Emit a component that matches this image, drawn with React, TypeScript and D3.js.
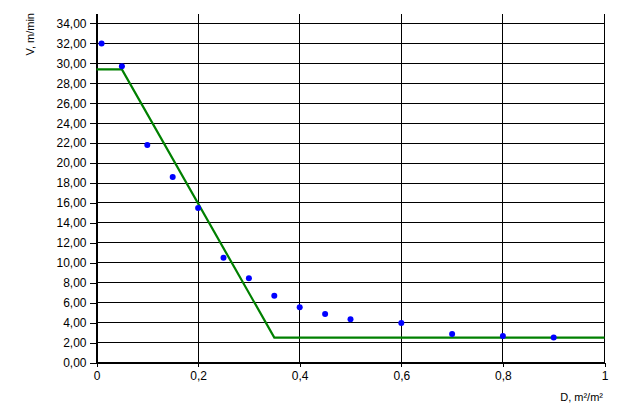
import * as d3 from "d3";
import { useEffect, useRef } from "react";

// measured points
const pointsD: number[] = [0.01, 0.05, 0.1, 0.15, 0.2, 0.25, 0.3, 0.35, 0.4, 0.45, 0.5, 0.6, 0.7, 0.8, 0.9];
const pointsV: number[] = [32.0, 29.7, 21.8, 18.6, 15.5, 10.5, 8.45, 6.7, 5.55, 4.87, 4.34, 3.97, 2.87, 2.67, 2.5];

// model line
const lineD: number[] = [0, 0.05, 0.35, 1];
const lineV: number[] = [29.4, 29.4, 2.5, 2.5];

const xTicks: number[] = [0, 0.2, 0.4, 0.6, 0.8, 1];
const yTicks: number[] = [0, 2, 4, 6, 8, 10, 12, 14, 16, 18, 20, 22, 24, 26, 28, 30, 32, 34];

const xTitle = "D, m²/m²";
const yTitle = "V, m/min";

const fmtX = (d: number) => String(d).replace(".", ",");
const fmtY = (d: number) => d.toFixed(2).replace(".", ",");

export default function App() {
  const width = 630;
  const height = 420;
  const svgRef = useRef<SVGSVGElement>(null);

  useEffect(() => {
    const svg = d3.select(svgRef.current);
    svg.selectAll("*").remove();

    const x = d3.scaleLinear().domain([0, 1]).range([96.5, 604.5]);
    const y = d3.scaleLinear().domain([0, 35]).range([362.5, 13.5]);

    svg
      .append("rect")
      .attr("width", width)
      .attr("height", height)
      .attr("fill", "#fff");

    // grid
    const grid = svg
      .append("g")
      .attr("stroke", "#000")
      .attr("stroke-width", 1)
      .attr("shape-rendering", "crispEdges");
    grid
      .selectAll("line.h")
      .data(yTicks)
      .enter()
      .append("line")
      .attr("x1", x(0))
      .attr("x2", x(1))
      .attr("y1", (d) => Math.round(y(d) - 0.5) + 0.5)
      .attr("y2", (d) => Math.round(y(d) - 0.5) + 0.5);
    grid
      .selectAll("line.v")
      .data(xTicks)
      .enter()
      .append("line")
      .attr("x1", (d) => Math.round(x(d) - 0.5) + 0.5)
      .attr("x2", (d) => Math.round(x(d) - 0.5) + 0.5)
      .attr("y1", y(35))
      .attr("y2", y(0));

    // axes
    const yAxis = svg
      .append("g")
      .attr("transform", `translate(${x(0)},0)`)
      .call(d3.axisLeft(y).tickValues(yTicks).tickFormat((d) => fmtY(+d)).tickSize(7).tickPadding(3).tickSizeOuter(0));
    const xAxis = svg
      .append("g")
      .attr("transform", `translate(0,${y(0)})`)
      .call(d3.axisBottom(x).tickValues(xTicks).tickFormat((d) => fmtX(+d)).tickSize(4).tickPadding(5).tickSizeOuter(0));

    [yAxis, xAxis].forEach((g) => {
      g.attr("font-family", "'Liberation Sans', Arial, sans-serif").attr("font-size", 12);
      g.selectAll("line").attr("stroke", "#000").attr("shape-rendering", "crispEdges");
      g.select(".domain").attr("stroke", "#000").attr("shape-rendering", "crispEdges");
      g.selectAll("text").attr("fill", "#000");
    });

    // model line
    const line = d3
      .line<number>()
      .x((d) => x(d))
      .y((_, i) => y(lineV[i]));
    svg
      .append("path")
      .attr("d", line(lineD))
      .attr("fill", "none")
      .attr("stroke", "#008000")
      .attr("stroke-width", 2.2);

    // points
    svg
      .append("g")
      .attr("fill", "#0000ff")
      .selectAll("circle")
      .data(pointsD)
      .enter()
      .append("circle")
      .attr("cx", (d) => x(d))
      .attr("cy", (_, i) => y(pointsV[i]))
      .attr("r", 3);

    // titles
    svg
      .append("text")
      .attr("transform", "translate(34,13) rotate(-90)")
      .attr("text-anchor", "end")
      .attr("font-family", "'Liberation Sans', Arial, sans-serif")
      .attr("font-size", 11)
      .text(yTitle);
    svg
      .append("text")
      .attr("x", 603)
      .attr("y", 401)
      .attr("text-anchor", "end")
      .attr("font-family", "'Liberation Sans', Arial, sans-serif")
      .attr("font-size", 11)
      .text(xTitle);
  }, []);

  return (
    <svg
      ref={svgRef}
      width={width}
      height={height}
      style={{ position: "absolute", left: 0, top: 0 }}
    />
  );
}
